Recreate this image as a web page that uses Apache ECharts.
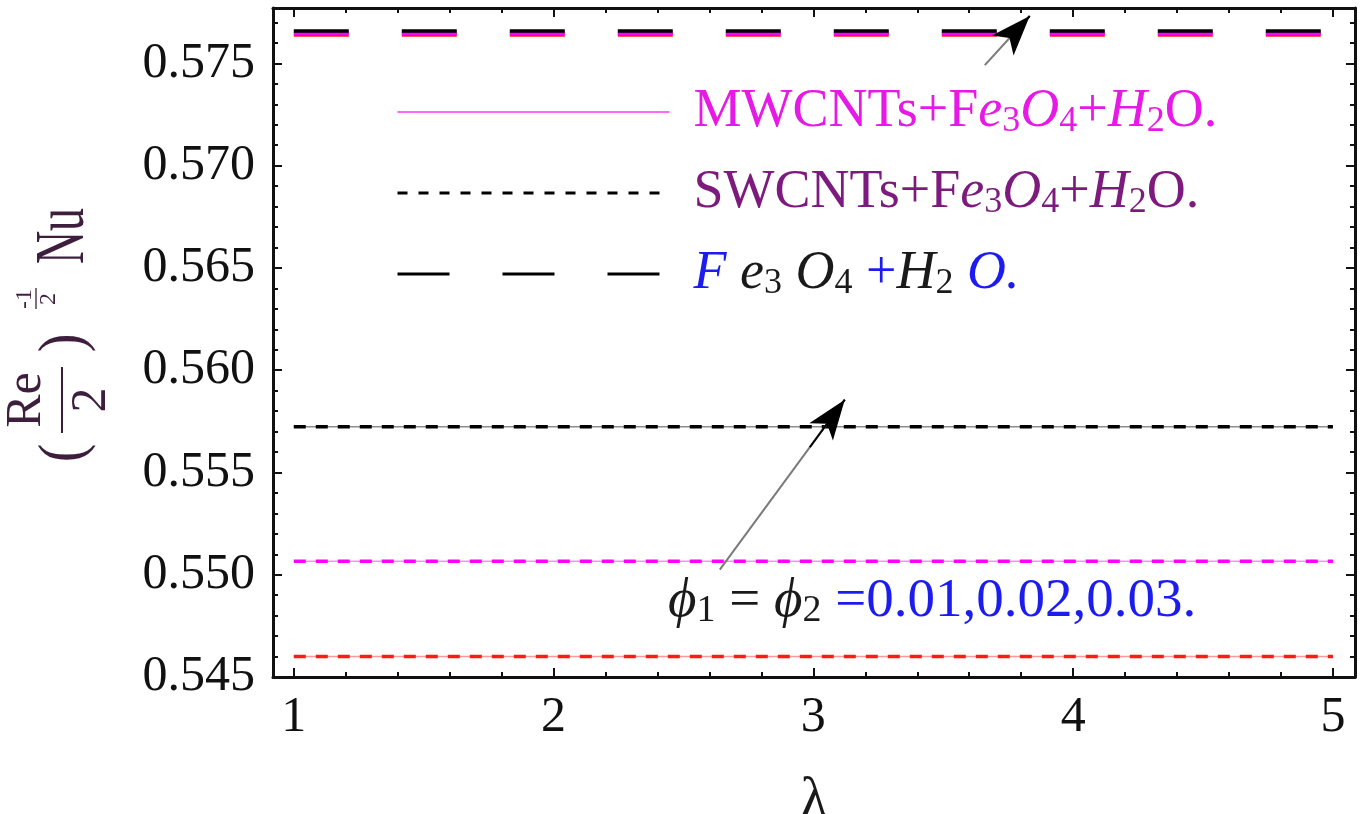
<!DOCTYPE html>
<html>
<head>
<meta charset="utf-8">
<script src="https://cdn.jsdelivr.net/npm/echarts@6/dist/echarts.min.js"></script>
<style>
  html, body { margin: 0; padding: 0; background: #ffffff; }
  #chart { width: 1364px; height: 814px; }
</style>
</head>
<body>
<div id="chart"></div>
<script>
// λ sample points
const lambdaValues = [1, 2, 3, 4, 5];

// Fe3O4 + H2O (long dashes), φ1 = φ2 = 0.01, 0.02, 0.03
const fePhi1 = [0.57639, 0.57639, 0.57639, 0.57639, 0.57639];
const fePhi2 = [0.57648, 0.57648, 0.57648, 0.57648, 0.57648];
const fePhi3 = [0.57658, 0.57658, 0.57658, 0.57658, 0.57658];

// SWCNTs + Fe3O4 + H2O (short dashes)
const swPhi1 = [0.54600, 0.54600, 0.54600, 0.54600, 0.54600];
const swPhi2 = [0.55066, 0.55066, 0.55066, 0.55066, 0.55066];
const swPhi3 = [0.55724, 0.55724, 0.55724, 0.55724, 0.55724];

// MWCNTs + Fe3O4 + H2O (thin solid)
const mwPhi1 = [0.54600, 0.54600, 0.54600, 0.54600, 0.54600];
const mwPhi2 = [0.55066, 0.55066, 0.55066, 0.55066, 0.55066];
const mwPhi3 = [0.55724, 0.55724, 0.55724, 0.55724, 0.55724];

// tick positions
const xTickLabels = [1, 2, 3, 4, 5];
const xMinorTicks = [1, 1.2, 1.4, 1.6, 1.8, 2, 2.2, 2.4, 2.6, 2.8, 3, 3.2, 3.4, 3.6, 3.8,
                     4, 4.2, 4.4, 4.6, 4.8, 5];
const yTickLabels = [0.545, 0.550, 0.555, 0.560, 0.565, 0.570, 0.575];
const yMinorTicks = [];
for (let k = 545; k <= 577; k++) yMinorTicks.push(k / 1000);

// arrows marking increasing φ
const arrowLow = [[2.640, 0.55025], [3.121, 0.55856]];
const arrowHigh = [[3.660, 0.57492], [3.833, 0.57732]];

const X_MIN = 0.92, X_MAX = 5.085;
const Y_MIN = 0.545, Y_MAX = 0.57771;

const phiColors = ['#ff1a1a', '#ff00ff', '#000000'];
const serif = "'Liberation Serif', 'Times New Roman', 'DejaVu Serif', serif";

const MW_NAME = 'MWCNTs+Fe3O4+H2O.';
const SW_NAME = 'SWCNTs+Fe3O4+H2O.';
const FE_NAME = 'Fe3O4+H2O.';

function pairs(vals) {
  return lambdaValues.map((x, i) => [x, vals[i]]);
}

function lineSeries(name, vals, color, width, dash, opacity) {
  return {
    name: name,
    type: 'line',
    data: pairs(vals),
    symbol: 'none',
    silent: true,
    animation: false,
    lineStyle: { color: color, width: width, type: dash, cap: 'butt', opacity: opacity }
  };
}

const series = [
  lineSeries(MW_NAME, mwPhi1, phiColors[0], 1.5, 'solid', 0.45),
  lineSeries(MW_NAME, mwPhi2, phiColors[1], 1.5, 'solid', 0.45),
  lineSeries(MW_NAME, mwPhi3, phiColors[2], 1.5, 'solid', 0.45),
  lineSeries(SW_NAME, swPhi1, phiColors[0], 3.5, [12, 10], 1),
  lineSeries(SW_NAME, swPhi2, phiColors[1], 3.5, [12, 10], 1),
  lineSeries(SW_NAME, swPhi3, phiColors[2], 3.5, [12, 10], 1),
  lineSeries(FE_NAME, fePhi1, phiColors[0], 3.5, [55, 53], 1),
  lineSeries(FE_NAME, fePhi2, phiColors[1], 3.5, [55, 53], 1),
  lineSeries(FE_NAME, fePhi3, phiColors[2], 3.5, [55, 53], 1)
];

// arrows drawn through the axes' scales
function arrowLines(seg) {
  const [p0, p1] = seg;
  const t = 0.72;
  const mid = [p0[0] + (p1[0] - p0[0]) * t, p0[1] + (p1[1] - p0[1]) * t];
  return [
    [{ coord: p0, symbol: 'none', lineStyle: { color: '#7a7a7a', width: 2 } },
     { coord: p1, symbol: 'none' }],
    [{ coord: mid, symbol: 'none', lineStyle: { color: '#000', width: 2 } },
     { coord: p1, symbol: 'arrow', symbolSize: [22, 40] }]
  ];
}
series[series.length - 1].markLine = {
  silent: true,
  animation: false,
  symbol: ['none', 'arrow'],
  label: { show: false },
  emphasis: { disabled: true },
  lineStyle: { type: 'solid' },
  data: arrowLines(arrowLow).concat(arrowLines(arrowHigh))
};

const frameColor = '#111';

function xAxisDef(position, ticks, len, withLabels, withLine) {
  return {
    type: 'value', position: position, min: X_MIN, max: X_MAX,
    axisLine: { show: withLine, onZero: false, lineStyle: { color: frameColor, width: 3 } },
    axisTick: { show: true, inside: true, length: len, customValues: ticks,
                lineStyle: { color: frameColor, width: 2 } },
    axisLabel: withLabels ? {
      show: true, customValues: ticks, margin: 16, color: '#111',
      fontFamily: serif, fontSize: 50,
      formatter: v => String(Math.round(v))
    } : { show: false },
    splitLine: { show: false }
  };
}

function yAxisDef(position, ticks, len, withLabels, withLine) {
  return {
    type: 'value', position: position, min: Y_MIN, max: Y_MAX,
    axisLine: { show: withLine, onZero: false, lineStyle: { color: frameColor, width: 3 } },
    axisTick: { show: true, inside: true, length: len, customValues: ticks,
                lineStyle: { color: frameColor, width: 2 } },
    axisLabel: withLabels ? {
      show: true, customValues: ticks, margin: 18, color: '#111',
      fontFamily: serif, fontSize: 50,
      formatter: v => v.toFixed(3)
    } : { show: false },
    splitLine: { show: false }
  };
}

const xMain = xAxisDef('bottom', xTickLabels, 9, true, true);
xMain.name = 'λ';
xMain.nameLocation = 'middle';
xMain.nameGap = 96;
xMain.nameTextStyle = { fontFamily: serif, fontSize: 56, color: '#1a1a1a' };

const titleColor = '#3d1f3d';
function t(text, x, y, size, extra) {
  return Object.assign({
    type: 'text', x: x, y: y,
    style: { text: text, fontFamily: serif, fontSize: size, fill: titleColor,
             align: 'center', verticalAlign: 'middle' }
  }, extra || {});
}

const option = {
  backgroundColor: '#ffffff',
  animation: false,
  grid: { left: 273, right: 9, top: 8, bottom: 137, containLabel: false, outerBoundsMode: 'none' },
  xAxis: [
    xMain,
    xAxisDef('bottom', xMinorTicks, 5, false, false),
    xAxisDef('top', xTickLabels, 9, false, true),
    xAxisDef('top', xMinorTicks, 5, false, false)
  ],
  yAxis: [
    yAxisDef('left', yTickLabels, 9, true, true),
    yAxisDef('left', yMinorTicks, 5, false, false),
    yAxisDef('right', yTickLabels, 9, false, true),
    yAxisDef('right', yMinorTicks, 5, false, false)
  ],
  legend: {
    orient: 'vertical', left: 396, top: 85, padding: 0,
    itemWidth: 272, itemHeight: 14, itemGap: 26,
    selectedMode: false,
    data: [
      { name: MW_NAME, itemStyle: { opacity: 0 },
        lineStyle: { color: '#ff33ff', width: 1.5, type: 'solid', opacity: 1 } },
      { name: SW_NAME, itemStyle: { opacity: 0 },
        lineStyle: { color: '#000', width: 3, type: [10, 11], opacity: 1 } },
      { name: FE_NAME, itemStyle: { opacity: 0 },
        lineStyle: { color: '#000', width: 3, type: [52, 53], opacity: 1 } }
    ],
    formatter: function (name) {
      if (name === MW_NAME) {
        return '{mw|MWCNTs+F}{mwi|e}{mws|3}{mwi|O}{mws|4}{mw|+}{mwi|H}{mws|2}{mw|O.}';
      }
      if (name === SW_NAME) {
        return '{sw|SWCNTs+F}{swi|e}{sws|3}{swi|O}{sws|4}{sw|+}{swi|H}{sws|2}{sw|O.}';
      }
      return '{fb|F}{fk| e}{fks|3}{fk| O}{fks|4}{fbu| +}{fk|H}{fks|2}{fb| O.}';
    },
    textStyle: {
      padding: [0, 0, 0, 19],
      rich: {
        mw:  { color: '#e619e6', fontFamily: serif, fontSize: 54, lineHeight: 56 },
        mwi: { color: '#e619e6', fontFamily: serif, fontSize: 54, lineHeight: 56, fontStyle: 'italic' },
        mws: { color: '#e619e6', fontFamily: serif, fontSize: 36, lineHeight: 30, verticalAlign: 'bottom' },
        sw:  { color: '#7d1a7d', fontFamily: serif, fontSize: 54, lineHeight: 56 },
        swi: { color: '#7d1a7d', fontFamily: serif, fontSize: 54, lineHeight: 56, fontStyle: 'italic' },
        sws: { color: '#7d1a7d', fontFamily: serif, fontSize: 36, lineHeight: 30, verticalAlign: 'bottom' },
        fb:  { color: '#1c1cf0', fontFamily: serif, fontSize: 54, lineHeight: 56, fontStyle: 'italic' },
        fbu: { color: '#1c1cf0', fontFamily: serif, fontSize: 54, lineHeight: 56 },
        fk:  { color: '#1a1a1a', fontFamily: serif, fontSize: 54, lineHeight: 56, fontStyle: 'italic' },
        fks: { color: '#1a1a1a', fontFamily: serif, fontSize: 36, lineHeight: 30, verticalAlign: 'bottom' }
      }
    }
  },
  graphic: [
    {
      // y-axis title: (Re/2)^(-1/2) Nu, read bottom to top
      type: 'group', x: 65, y: 335, rotation: Math.PI / 2, silent: true,
      children: [
        t('(', -118, 0, 56, { scaleY: 1.15 }),
        t('Re', -65, -38, 50),
        { type: 'line', shape: { x1: -98, y1: -3, x2: -32, y2: -3 },
          style: { stroke: titleColor, lineWidth: 2 } },
        t('2', -65, 27, 50),
        t(')', -8, 0, 56, { scaleY: 1.15 }),
        t('-1', 36, -40, 24),
        { type: 'line', shape: { x1: 26, y1: -29, x2: 47, y2: -29 },
          style: { stroke: titleColor, lineWidth: 1.3 } },
        t('2', 36, -16, 24),
        t('Nu', 99, 0, 46, { scaleY: 1.5 })
      ]
    },
    {
      type: 'text', left: 668, top: 574, silent: true,
      style: {
        text: '{p|ϕ}{ps|1}{k| = }{p|ϕ}{ps|2}{b| =0.01,0.02,0.03.}',
        rich: {
          p:  { fontFamily: serif, fontSize: 55, lineHeight: 58, fontStyle: 'italic', fill: '#1a1a1a' },
          ps: { fontFamily: serif, fontSize: 38, lineHeight: 32, verticalAlign: 'bottom', fill: '#1a1a1a' },
          k:  { fontFamily: serif, fontSize: 55, lineHeight: 58, fill: '#1a1a1a' },
          b:  { fontFamily: serif, fontSize: 55, lineHeight: 58, fill: '#1c1cf0' }
        }
      }
    }
  ],
  series: series
};

const chart = echarts.init(document.getElementById('chart'), null, { renderer: 'canvas' });
chart.setOption(option);
</script>
</body>
</html>
